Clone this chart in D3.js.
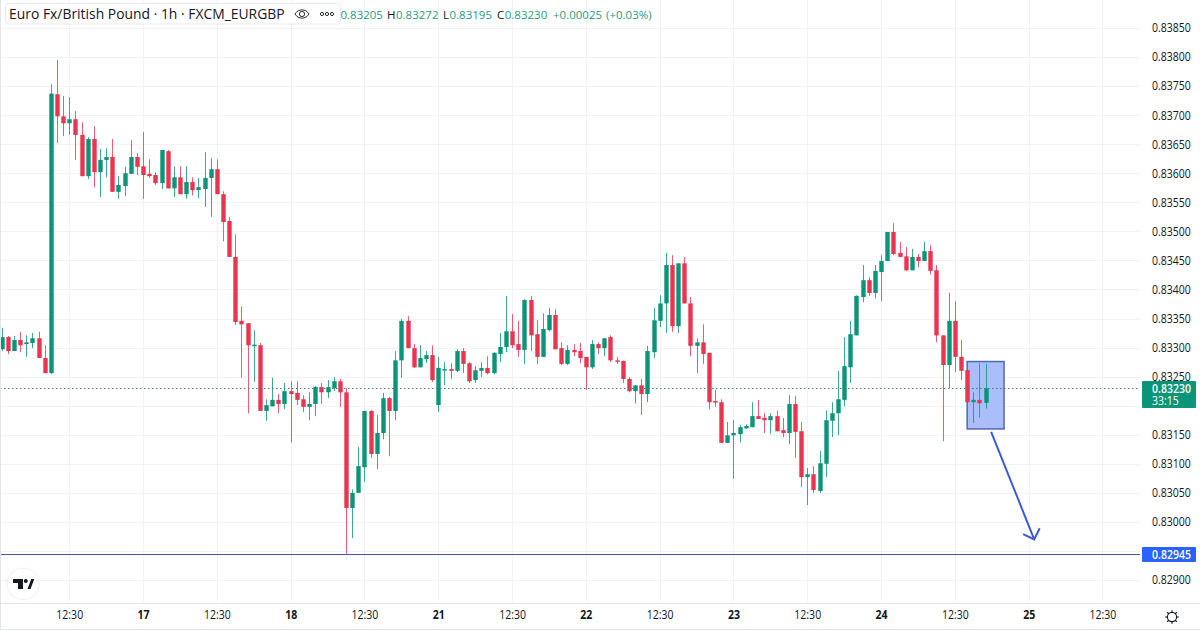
<!DOCTYPE html>
<html><head><meta charset="utf-8">
<script src="https://cdnjs.cloudflare.com/ajax/libs/d3/7.8.5/d3.min.js"></script>
<style>
html,body{margin:0;padding:0;background:#fff;overflow:hidden}
svg{display:block}
text{font-family:"Open Sans","Noto Sans",sans-serif}
</style></head><body><svg id="c" width="1200" height="630"></svg>
<script>
const title = "Euro Fx/British Pound · 1h · FXCM_EURGBP";
const legendLetters = ["O","H","L","C","",""];
const legendValues = ["0.83205","0.83272","0.83195","0.83230","+0.00025","(+0.03%)"];
const opens = [0.83297,0.83318,0.83294,0.83313,0.83306,0.83308,0.83316,0.83282,0.83256,0.83736,
0.83698,0.83686,0.83693,0.83666,0.83595,0.83659,0.83602,0.83623,0.83628,0.83568,
0.83578,0.83599,0.83628,0.83612,0.83599,0.83597,0.83583,0.83638,0.83574,0.83593,
0.83564,0.83585,0.83571,0.83573,0.83592,0.83607,0.83564,0.83518,0.83456,0.83346,
0.83342,0.83303,0.83304,0.83191,0.83199,0.83210,0.83203,0.83225,0.83222,0.83211,
0.83198,0.83203,0.83232,0.83223,0.83230,0.83242,0.83223,0.83024,0.83050,0.83094,
0.83191,0.83117,0.83153,0.83213,0.83191,0.83278,0.83346,0.83299,0.83266,0.83280,
0.83287,0.83201,0.83262,0.83263,0.83260,0.83294,0.83273,0.83244,0.83260,0.83265,
0.83256,0.83289,0.83301,0.83328,0.83306,0.83296,0.83382,0.83323,0.83284,0.83330,
0.83356,0.83299,0.83272,0.83296,0.83294,0.83284,0.83266,0.83306,0.83299,0.83318,
0.83278,0.83277,0.83246,0.83225,0.83235,0.83220,0.83292,0.83346,0.83376,0.83442,
0.83337,0.83445,0.83376,0.83303,0.83309,0.83291,0.83208,0.83206,0.83136,0.83149,
0.83151,0.83161,0.83163,0.83182,0.83179,0.83175,0.83182,0.83158,0.83153,0.83203,
0.83156,0.83077,0.83082,0.83053,0.83100,0.83174,0.83187,0.83210,0.83266,0.83321,
0.83387,0.83416,0.83394,0.83430,0.83449,0.83499,0.83463,0.83457,0.83433,0.83456,
0.83449,0.83466,0.83433,0.83321,0.83270,0.83346,0.83284,0.83261,0.83206,0.83210,0.83205];
const highs = [0.83334,0.83320,0.83320,0.83327,0.83321,0.83325,0.83327,0.83304,0.83753,0.83795,
0.83733,0.83731,0.83707,0.83688,0.83662,0.83681,0.83642,0.83643,0.83659,0.83595,
0.83611,0.83657,0.83635,0.83671,0.83624,0.83602,0.83640,0.83640,0.83612,0.83612,
0.83612,0.83593,0.83592,0.83636,0.83626,0.83624,0.83569,0.83525,0.83495,0.83371,
0.83342,0.83330,0.83308,0.83211,0.83248,0.83220,0.83239,0.83242,0.83242,0.83218,
0.83223,0.83234,0.83239,0.83244,0.83249,0.83246,0.83230,0.83056,0.83129,0.83191,
0.83192,0.83184,0.83222,0.83215,0.83294,0.83349,0.83354,0.83306,0.83304,0.83294,
0.83304,0.83284,0.83275,0.83273,0.83297,0.83299,0.83275,0.83268,0.83275,0.83285,
0.83292,0.83325,0.83389,0.83358,0.83346,0.83383,0.83389,0.83347,0.83359,0.83368,
0.83366,0.83309,0.83304,0.83306,0.83308,0.83284,0.83313,0.83309,0.83316,0.83321,
0.83284,0.83278,0.83249,0.83235,0.83246,0.83303,0.83368,0.83390,0.83463,0.83459,
0.83445,0.83456,0.83387,0.83316,0.83340,0.83291,0.83227,0.83211,0.83172,0.83175,
0.83167,0.83168,0.83206,0.83210,0.83187,0.83187,0.83192,0.83179,0.83218,0.83217,
0.83172,0.83093,0.83096,0.83122,0.83192,0.83206,0.83260,0.83318,0.83346,0.83390,
0.83442,0.83421,0.83442,0.83459,0.83499,0.83514,0.83482,0.83473,0.83470,0.83461,
0.83482,0.83476,0.83442,0.83321,0.83394,0.83380,0.83313,0.83261,0.83223,0.83273,0.83272];
const lows = [0.83294,0.83289,0.83294,0.83292,0.83284,0.83299,0.83282,0.83256,0.83255,0.83652,
0.83664,0.83666,0.83623,0.83595,0.83590,0.83576,0.83559,0.83593,0.83568,0.83556,
0.83561,0.83599,0.83597,0.83556,0.83592,0.83580,0.83573,0.83574,0.83559,0.83564,
0.83556,0.83562,0.83557,0.83542,0.83525,0.83564,0.83483,0.83456,0.83339,0.83248,
0.83187,0.83241,0.83191,0.83174,0.83199,0.83187,0.83194,0.83137,0.83201,0.83189,
0.83175,0.83182,0.83203,0.83213,0.83225,0.83198,0.82945,0.82972,0.83050,0.83069,
0.83110,0.83091,0.83142,0.83113,0.83175,0.83248,0.83299,0.83265,0.83266,0.83273,
0.83241,0.83189,0.83235,0.83246,0.83258,0.83256,0.83239,0.83239,0.83249,0.83254,
0.83254,0.83275,0.83292,0.83299,0.83284,0.83272,0.83294,0.83272,0.83284,0.83328,
0.83297,0.83270,0.83270,0.83285,0.83273,0.83227,0.83263,0.83289,0.83285,0.83275,
0.83272,0.83239,0.83223,0.83204,0.83184,0.83206,0.83282,0.83335,0.83325,0.83327,
0.83325,0.83376,0.83285,0.83256,0.83272,0.83194,0.83198,0.83136,0.83136,0.83074,
0.83137,0.83160,0.83163,0.83177,0.83153,0.83151,0.83156,0.83146,0.83134,0.83110,
0.83060,0.83029,0.83050,0.83050,0.83077,0.83146,0.83149,0.83199,0.83239,0.83321,
0.83378,0.83389,0.83385,0.83380,0.83449,0.83459,0.83456,0.83432,0.83433,0.83438,
0.83449,0.83426,0.83309,0.83139,0.83230,0.83258,0.83244,0.83170,0.83170,0.83180,0.83195];
const closes = [0.83318,0.83294,0.83313,0.83304,0.83309,0.83316,0.83282,0.83256,0.83737,0.83698,
0.83686,0.83693,0.83666,0.83595,0.83659,0.83602,0.83623,0.83628,0.83568,0.83580,
0.83600,0.83628,0.83611,0.83597,0.83595,0.83583,0.83640,0.83574,0.83593,0.83564,
0.83585,0.83571,0.83576,0.83592,0.83607,0.83564,0.83516,0.83456,0.83344,0.83340,
0.83304,0.83305,0.83191,0.83201,0.83210,0.83203,0.83225,0.83220,0.83210,0.83198,
0.83203,0.83232,0.83223,0.83232,0.83242,0.83223,0.83024,0.83050,0.83096,0.83191,
0.83117,0.83153,0.83213,0.83191,0.83278,0.83346,0.83299,0.83266,0.83282,0.83287,
0.83244,0.83265,0.83263,0.83260,0.83294,0.83272,0.83242,0.83261,0.83265,0.83256,
0.83291,0.83301,0.83328,0.83304,0.83296,0.83382,0.83321,0.83284,0.83332,0.83356,
0.83297,0.83272,0.83296,0.83292,0.83282,0.83266,0.83306,0.83299,0.83316,0.83278,
0.83277,0.83246,0.83225,0.83235,0.83220,0.83294,0.83347,0.83376,0.83442,0.83337,
0.83445,0.83376,0.83303,0.83309,0.83289,0.83206,0.83206,0.83136,0.83149,0.83153,
0.83163,0.83165,0.83182,0.83177,0.83175,0.83182,0.83156,0.83153,0.83203,0.83155,
0.83077,0.83082,0.83055,0.83101,0.83175,0.83187,0.83211,0.83268,0.83323,0.83389,
0.83416,0.83394,0.83432,0.83449,0.83499,0.83461,0.83456,0.83433,0.83456,0.83449,
0.83466,0.83432,0.83321,0.83270,0.83346,0.83284,0.83260,0.83206,0.83210,0.83204,0.83230];
const gridPrices = [0.829,0.8295,0.83,0.8305,0.831,0.8315,0.832,0.8325,0.833,0.8335,0.834,0.8345,0.835,0.8355,0.836,0.8365,0.837,0.8375,0.838,0.8385];
const priceTicks = [0.829,0.83,0.8305,0.831,0.8315,0.8325,0.833,0.8335,0.834,0.8345,0.835,0.8355,0.836,0.8365,0.837,0.8375,0.838,0.8385];
const timeTickBars = [11,23,35,47,59,71,83,95,107,119,131,143,155,167,179];
const timeTickLabels = ["12:30","17","12:30","18","12:30","21","12:30","22","12:30","23","12:30","24","12:30","25","12:30"];
const lastPrice = 0.8323, countdown = "33:15", supportLevel = 0.82945;
const zoneBars = [157,163], zonePrices = [0.83276,0.8316];
const arrowBars = [160.9,167.9], arrowPrices = [0.83155,0.8297];
const barbBars = [166.1,168.8], barbPrices = [0.82979,0.82989];

const GREEN="#0a9478", RED="#ea3450", TEXT="#131722", GRID="#f2f3f6", BLUE="#3b5bd6";
const plotW=1140, axisY=603, SQUEEZE=0.875;
const x=d3.scaleLinear().domain([0,160]).range([1.6,985.6]);
const y=d3.scaleLinear().domain([0.829,0.8385]).range([580,28]);
const svg=d3.select("#c");
const squeeze=sel=>sel.each(function(){const n=this.getComputedTextLength();
  this.setAttribute("textLength",n*SQUEEZE);this.setAttribute("lengthAdjust","spacingAndGlyphs");});
const defs=svg.append("defs");
const f=defs.append("filter").attr("id","sh").attr("x","-40%").attr("y","-40%").attr("width","180%").attr("height","180%");
f.append("feDropShadow").attr("dx",0).attr("dy",0).attr("stdDeviation",1.5).attr("flood-color","#000").attr("flood-opacity",.14);

// grid
const grid=svg.append("g");
grid.selectAll("line.h").data(gridPrices).join("line").attr("class","h")
 .attr("x1",0).attr("x2",plotW).attr("y1",d=>Math.round(y(d))+.5).attr("y2",d=>Math.round(y(d))+.5).attr("stroke",GRID);
grid.selectAll("line.v").data(timeTickBars).join("line").attr("class","v")
 .attr("y1",0).attr("y2",axisY).attr("x1",d=>Math.round(x(d))+.5).attr("x2",d=>Math.round(x(d))+.5).attr("stroke",GRID);

// zone under candles
svg.append("rect").attr("x",x(zoneBars[0])).attr("width",x(zoneBars[1])-x(zoneBars[0]))
 .attr("y",y(zonePrices[0])).attr("height",y(zonePrices[1])-y(zonePrices[0]))
 .attr("fill","#aabefb").attr("stroke","#5564b6").attr("stroke-width",1.5);

// candles
const idx=d3.range(opens.length);
const col=i=>closes[i]>=opens[i]?GREEN:RED;
const g=svg.append("g");
g.selectAll("line.w").data(idx).join("line").attr("class","w")
 .attr("x1",i=>Math.round(x(i))+.5).attr("x2",i=>Math.round(x(i))+.5)
 .attr("y1",i=>y(highs[i])).attr("y2",i=>y(lows[i])).attr("stroke",col).attr("stroke-opacity",.8);
g.selectAll("rect.b").data(idx).join("rect").attr("class","b")
 .attr("x",i=>Math.round(x(i))-1.7).attr("width",4.4)
 .attr("y",i=>y(Math.max(opens[i],closes[i])))
 .attr("height",i=>Math.max(1.5,Math.abs(y(opens[i])-y(closes[i])))).attr("fill",col);

// last price & support lines
svg.append("line").attr("x1",0).attr("x2",plotW).attr("y1",Math.round(y(lastPrice))+.5).attr("y2",Math.round(y(lastPrice))+.5)
 .attr("stroke","#4a7f76").attr("stroke-dasharray","1.5 2.5");
svg.append("line").attr("x1",0).attr("x2",plotW).attr("y1",Math.round(y(supportLevel))+.5).attr("y2",Math.round(y(supportLevel))+.5)
 .attr("stroke","#4658ac");

// arrow
const lg=d3.line();
const arrow=svg.append("g").attr("fill","none").attr("stroke",BLUE).attr("stroke-width",2);
arrow.append("path").attr("d",lg([[x(arrowBars[0]),y(arrowPrices[0])],[x(arrowBars[1]),y(arrowPrices[1])]]));
arrow.append("path").attr("d",lg([[x(barbBars[0]),y(barbPrices[0])],[x(arrowBars[1]),y(arrowPrices[1])],[x(barbBars[1]),y(barbPrices[1])]]));

// axes panel
svg.append("rect").attr("x",plotW).attr("y",0).attr("width",60).attr("height",630).attr("fill","#fff");
svg.append("rect").attr("x",0).attr("y",axisY).attr("width",1200).attr("height",27).attr("fill","#fff");
svg.append("line").attr("x1",0).attr("x2",1200).attr("y1",axisY+.5).attr("y2",axisY+.5).attr("stroke","#e3e5ea");
svg.append("line").attr("x1",0).attr("x2",1200).attr("y1",629.5).attr("y2",629.5).attr("stroke","#e3e5ea");
svg.append("line").attr("x1",.5).attr("x2",.5).attr("y1",0).attr("y2",630).attr("stroke","#e3e5ea");

const yAxis=d3.axisRight(y).tickValues(priceTicks).tickFormat(d3.format(".5f")).tickSize(0).tickPadding(0);
const ya=svg.append("g").attr("transform","translate(1152,0)").call(yAxis);
ya.select(".domain").remove();
ya.selectAll("text").attr("fill",TEXT).style("font-size","12px").style("font-family",'"Open Sans",sans-serif').call(squeeze);

const labelOf=new Map(timeTickBars.map((b,i)=>[b,timeTickLabels[i]]));
const xAxis=d3.axisBottom(x).tickValues(timeTickBars).tickFormat(d=>labelOf.get(d)).tickSize(0).tickPadding(0);
const xa=svg.append("g").attr("transform",`translate(0,${axisY+7})`).call(xAxis);
xa.select(".domain").remove();
xa.selectAll("text").attr("fill",TEXT).style("font-size","12px").style("font-family",'"Open Sans",sans-serif')
 .style("font-weight",d=>labelOf.get(d)==="12:30"?400:700).call(squeeze);

// price badges
const badge=svg.append("g");
badge.append("rect").attr("x",1142).attr("y",381).attr("width",54).attr("height",27).attr("rx",1).attr("fill",GREEN);
badge.append("text").attr("x",1152).attr("y",392.5).attr("fill","#fff").style("font-size","12px").style("font-weight",600).text(lastPrice.toFixed(5)).call(squeeze);
badge.append("text").attr("x",1152).attr("y",405).attr("fill","#fff").style("font-size","12px").text(countdown).call(squeeze);
badge.append("rect").attr("x",1142).attr("y",547).attr("width",54).attr("height",15).attr("rx",1).attr("fill","#2962ff");
badge.append("text").attr("x",1152).attr("y",559).attr("fill","#fff").style("font-size","12px").style("font-weight",600).text(supportLevel.toFixed(5)).call(squeeze);

// OHLC legend
const legendX=[331,387,443,497,553,606];
const lt=svg.append("g").selectAll("text").data(legendValues).join("text")
 .attr("x",(d,i)=>legendX[i]).attr("y",19).style("font-size","11.5px");
lt.append("tspan").attr("fill",TEXT).text((d,i)=>legendLetters[i]);
lt.append("tspan").attr("fill","#2c9a84").attr("dx",(d,i)=>legendLetters[i]?"0.5":"0").text(d=>d);

// title box
svg.append("rect").attr("x",5.5).attr("y",3.5).attr("width",335).attr("height",20.5).attr("rx",3).attr("fill","#fff").attr("stroke","#e8eaf0");
svg.append("text").attr("x",9).attr("y",19).attr("fill",TEXT).style("font-size","13.9px").text(title);
// eye icon
const eye=svg.append("g").attr("transform","translate(302,14)").attr("fill","none").attr("stroke","#2a2e39").attr("stroke-width",1);
eye.append("path").attr("d","M-7 0C-4-5.5 4-5.5 7 0C4 5.5-4 5.5-7 0Z");
eye.append("circle").attr("r",2.6);
// dots
svg.append("g").selectAll("circle").data([-5,0,5]).join("circle").attr("cx",d=>327+d).attr("cy",14).attr("r",1.6).attr("fill","none").attr("stroke","#2a2e39");

// logo
const logo=svg.append("g");
logo.append("circle").attr("cx",23).attr("cy",584).attr("r",15).attr("fill","#fff").attr("filter","url(#sh)");
logo.append("path").attr("fill","#131722").attr("d","M13 579h10v10h-5v-6h-5zM27.5 589l3.8-10h3l-3.8 10z");
logo.append("circle").attr("cx",25.8).attr("cy",581).attr("r",2).attr("fill","#131722");

// settings
const gear=svg.append("g").attr("transform","translate(1172,617)").attr("fill","none").attr("stroke","#131722").attr("stroke-width",1.1);
gear.append("circle").attr("r",4.6);
gear.selectAll("line").data(d3.range(8)).join("line")
 .attr("x1",d=>Math.cos(d*Math.PI/4)*4.6).attr("y1",d=>Math.sin(d*Math.PI/4)*4.6)
 .attr("x2",d=>Math.cos(d*Math.PI/4)*6.8).attr("y2",d=>Math.sin(d*Math.PI/4)*6.8);
</script></body></html>
